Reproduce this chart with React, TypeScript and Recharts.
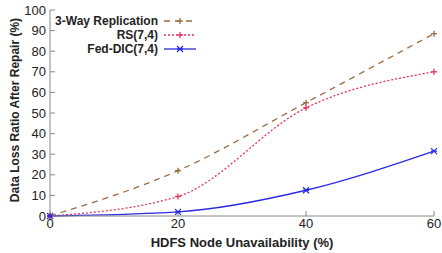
import React from "react";
import { LineChart, Line, XAxis, YAxis } from "recharts";

const nodeUnavailability = [0, 20, 40, 60];
const replication3Way = [0, 22, 55, 88.5];
const rs74 = [0, 9.5, 52.5, 70];
const fedDic74 = [0, 2, 12.5, 31.5];
const xTicks = [0, 20, 40, 60];
const yTicks = [0, 10, 20, 30, 40, 50, 60, 70, 80, 90, 100];

const data = nodeUnavailability.map((x, i) => ({
  x,
  rep: replication3Way[i],
  rs: rs74[i],
  fed: fedDic74[i],
}));

const BROWN = "#9a6b3e";
const PINK = "#e8305a";
const BLUE = "#2a2ae0";
const FRAME = "#888";
const FONT = "Liberation Sans, Arial, sans-serif";

const plusMark = (cx: number, cy: number, color: string) => (
  <g stroke={color} strokeWidth={1.3}>
    <line x1={cx - 3} y1={cy} x2={cx + 3} y2={cy} />
    <line x1={cx} y1={cy - 3} x2={cx} y2={cy + 3} />
  </g>
);

const starMark = (cx: number, cy: number, color: string) => (
  <g stroke={color} strokeWidth={1.3}>
    <line x1={cx - 3} y1={cy - 3} x2={cx + 3} y2={cy + 3} />
    <line x1={cx - 3} y1={cy + 3} x2={cx + 3} y2={cy - 3} />
    <line x1={cx - 3} y1={cy} x2={cx + 3} y2={cy} />
  </g>
);

const PlusDot = (color: string) => (props: any) => {
  const { cx, cy } = props;
  if (cx == null || cy == null) return <g />;
  return plusMark(cx, cy, color);
};

const StarDot = (color: string) => (props: any) => {
  const { cx, cy } = props;
  if (cx == null || cy == null) return <g />;
  return starMark(cx, cy, color);
};

const legendItems = [
  { label: "3-Way Replication", color: BROWN, dash: "6 5", mark: plusMark },
  { label: "RS(7,4)", color: PINK, dash: "2 2", mark: plusMark },
  { label: "Fed-DIC(7,4)", color: BLUE, dash: "", mark: starMark },
];

const tickStyle = { fontFamily: FONT, fontSize: 13, fill: "#222" };

export default function App() {
  return (
    <div style={{ position: "absolute", left: 0, top: 0, width: 442, height: 253, background: "#fff" }}>
      <LineChart width={442} height={253} data={data} margin={{ top: 10, right: 8, bottom: 0, left: 0 }}>
        <XAxis
          dataKey="x"
          type="number"
          domain={[0, 60]}
          ticks={xTicks}
          height={37}
          stroke={FRAME}
          tickSize={-5}
          tickMargin={8}
          tick={tickStyle}
          label={{ value: "HDFS Node Unavailability (%)", position: "insideBottom", offset: 6, style: { fontFamily: FONT, fontWeight: "bold", fontSize: 13, fill: "#222" } }}
        />
        <XAxis
          xAxisId="top"
          orientation="top"
          dataKey="x"
          type="number"
          domain={[0, 60]}
          ticks={[0, 20, 40, 60]}
          height={0}
          stroke={FRAME}
          tickSize={-5}
          tickFormatter={() => ""}
        />
        <YAxis
          type="number"
          domain={[0, 100]}
          ticks={yTicks}
          width={50}
          stroke={FRAME}
          tickSize={-5}
          tickMargin={9}
          tick={tickStyle}
          interval={0}
        />
        <YAxis
          yAxisId="right"
          orientation="right"
          type="number"
          domain={[0, 100]}
          ticks={yTicks}
          width={0}
          stroke={FRAME}
          tickSize={-5}
          tickFormatter={() => ""}
          interval={0}
        />
        <Line dataKey="rep" type="monotone" stroke={BROWN} strokeWidth={1.3} strokeDasharray="6 5" dot={PlusDot(BROWN)} isAnimationActive={false} />
        <Line dataKey="rs" type="monotone" stroke={PINK} strokeWidth={1.3} strokeDasharray="2 2" dot={PlusDot(PINK)} isAnimationActive={false} />
        <Line dataKey="fed" type="monotone" stroke={BLUE} strokeWidth={1.3} dot={StarDot(BLUE)} isAnimationActive={false} />
      </LineChart>
      <div
        style={{
          position: "absolute",
          left: 15,
          top: 110,
          transform: "translate(-50%, -50%) rotate(-90deg)",
          whiteSpace: "nowrap",
          fontFamily: FONT,
          fontWeight: "bold",
          fontSize: 12,
          color: "#222",
        }}
      >
        Data Loss Ratio After Repair (%)
      </div>
      <div
        style={{
          position: "absolute",
          left: 40,
          top: 14,
          width: 158,
          fontFamily: FONT,
          fontWeight: "bold",
          fontSize: 12,
          color: "#222",
        }}
      >
        {legendItems.map((it) => (
          <div key={it.label} style={{ display: "flex", alignItems: "center", height: 14, justifyContent: "flex-end" }}>
            <span>{it.label}</span>
            <svg width={36} height={10} style={{ marginLeft: 4 }}>
              <line x1={2} y1={5} x2={34} y2={5} stroke={it.color} strokeWidth={1.3} strokeDasharray={it.dash} />
              {it.mark(18, 5, it.color)}
            </svg>
          </div>
        ))}
      </div>
    </div>
  );
}
